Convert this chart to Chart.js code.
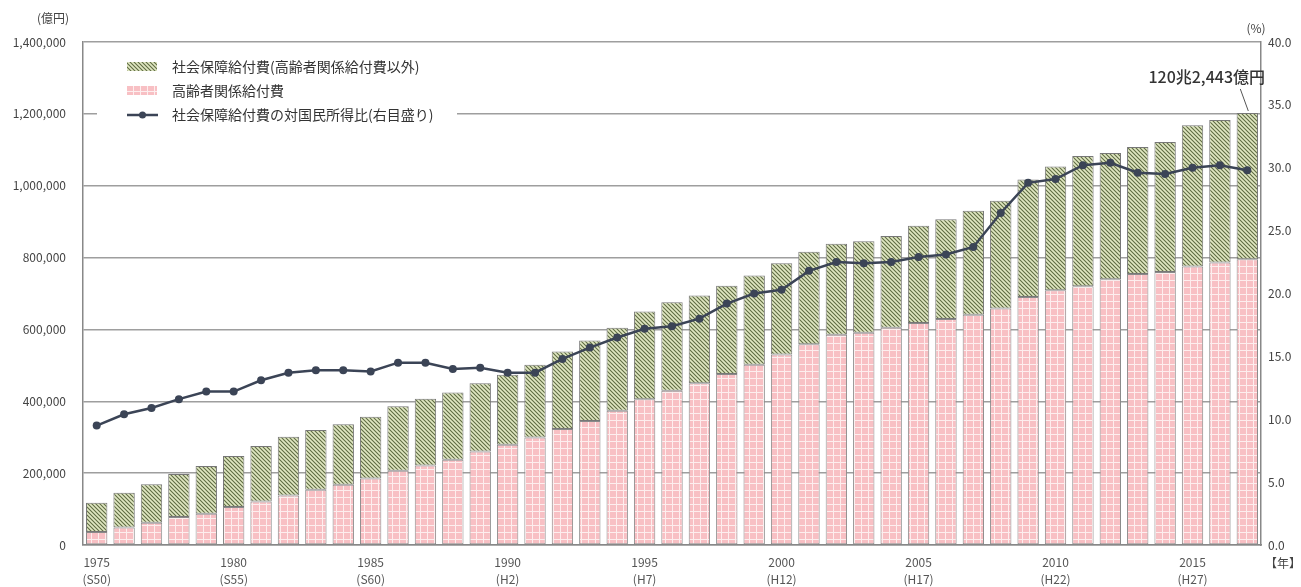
<!DOCTYPE html>
<html>
<head>
<meta charset="utf-8">
<script src="https://cdn.jsdelivr.net/npm/chart.js@4.4.1/dist/chart.umd.min.js"></script>
<style>
  body { margin: 0; background: #fff; }
  #wrap { width: 1301px; height: 587px; }
</style>
</head>
<body>
<div id="wrap"><canvas id="c" width="1301" height="587"></canvas></div>
<script>
// ── Data (億円 / %) ─────────────────────────────────────────
const years = [1975, 1976, 1977, 1978, 1979, 1980, 1981, 1982, 1983, 1984,
               1985, 1986, 1987, 1988, 1989, 1990, 1991, 1992, 1993, 1994,
               1995, 1996, 1997, 1998, 1999, 2000, 2001, 2002, 2003, 2004,
               2005, 2006, 2007, 2008, 2009, 2010, 2011, 2012, 2013, 2014,
               2015, 2016, 2017];

// 高齢者関係給付費
const elderly = [36000, 49000, 62000, 78000, 87000, 106000, 121000, 138000, 154000, 168000,
                 185000, 207000, 221000, 237000, 260000, 279000, 299000, 323000, 345000, 374000,
                 406000, 429000, 450000, 476000, 502000, 530000, 559000, 585000, 591000, 605000,
                 618000, 629000, 641000, 658000, 690000, 709000, 720000, 740000, 754000, 760000,
                 775000, 786000, 795000];

// 社会保障給付費（高齢者関係給付費以外）
const others = [81693, 96165, 106868, 119763, 132832, 141736, 154638, 162973, 165733, 168396,
                171798, 178918, 186337, 187117, 190148, 195153, 202346, 215280, 223974, 230727,
                243842, 246475, 244187, 245411, 248417, 253985, 257267, 253402, 254305, 254999,
                270529, 277727, 289641, 300441, 326980, 344646, 362741, 350781, 353796, 361734,
                393403, 397089, 407443];

// 社会保障給付費の対国民所得比 (%)
const ratio = [9.5, 10.4, 10.9, 11.6, 12.2, 12.2, 13.1, 13.7, 13.9, 13.9,
               13.8, 14.5, 14.5, 14.0, 14.1, 13.7, 13.7, 14.8, 15.7, 16.5,
               17.2, 17.4, 18.0, 19.2, 20.0, 20.3, 21.8, 22.5, 22.4, 22.5,
               22.9, 23.1, 23.7, 26.4, 28.8, 29.1, 30.2, 30.4, 29.6, 29.5,
               30.0, 30.2, 29.8];

// x tick labels (year + era)
const tickYears = [1975, 1980, 1985, 1990, 1995, 2000, 2005, 2010, 2015];
const tickEras  = ['(S50)', '(S55)', '(S60)', '(H2)', '(H7)', '(H12)', '(H17)', '(H22)', '(H27)'];

const seriesNames = ['社会保障給付費(高齢者関係給付費以外)', '高齢者関係給付費', '社会保障給付費の対国民所得比(右目盛り)'];
const lastTotalLabel = '120兆2,443億円';
const lastTotal = 1202443;

// ── Patterns ───────────────────────────────────────────────
function stripePattern() {
  const c = document.createElement('canvas');
  c.width = 4; c.height = 4;
  const g = c.getContext('2d');
  g.fillStyle = '#e0e7c2';
  g.fillRect(0, 0, 4, 4);
  g.strokeStyle = '#5f6c43';
  g.lineWidth = 1.1;
  g.beginPath();
  g.moveTo(-1, -1); g.lineTo(5, 5);
  g.moveTo(-1, 3); g.lineTo(1, 5);
  g.moveTo(3, -1); g.lineTo(5, 1);
  g.stroke();
  return g.createPattern(c, 'repeat');
}

function gridPattern() {
  const c = document.createElement('canvas');
  c.width = 7; c.height = 7;
  const g = c.getContext('2d');
  g.fillStyle = '#f8c0c4';
  g.fillRect(0, 0, 7, 7);
  g.fillStyle = '#fdeeee';
  g.fillRect(0, 0, 7, 1);
  g.fillRect(0, 0, 1, 7);
  return g.createPattern(c, 'repeat');
}

const greenFill = stripePattern();
const pinkFill  = gridPattern();
const lineColor = '#3b4456';
const FONT = "'Noto Sans CJK JP', 'Noto Sans', sans-serif";

Chart.defaults.font.family = FONT;
Chart.defaults.font.size = 12;
Chart.defaults.color = '#444';

// ── Extra drawing: legend box, axis units, annotation ───────
const decorations = {
  id: 'decorations',
  beforeDatasetsDraw(chart) {
    const ctx = chart.ctx;
    ctx.save();
    ctx.fillStyle = '#fff';
    ctx.fillRect(97, 50, 360, 80);

    // legend swatches
    ctx.fillStyle = greenFill;
    ctx.fillRect(127, 62, 30, 9);
    ctx.fillStyle = pinkFill;
    ctx.fillRect(127, 86, 30, 9);
    ctx.strokeStyle = lineColor;
    ctx.lineWidth = 2.5;
    ctx.beginPath();
    ctx.moveTo(127, 115); ctx.lineTo(158, 115);
    ctx.stroke();
    ctx.fillStyle = lineColor;
    ctx.beginPath();
    ctx.arc(142.5, 115, 3.5, 0, Math.PI * 2);
    ctx.fill();

    ctx.fillStyle = '#333';
    ctx.font = '14px ' + FONT;
    ctx.textBaseline = 'middle';
    ctx.textAlign = 'left';
    ctx.fillText(seriesNames[0], 172, 67);
    ctx.fillText(seriesNames[1], 172, 91);
    ctx.fillText(seriesNames[2], 172, 115);
    ctx.restore();
  },
  afterDraw(chart) {
    const ctx = chart.ctx;
    const xs = chart.scales.x, ys = chart.scales.y;
    ctx.save();
    ctx.fillStyle = '#444';
    ctx.font = '12px ' + FONT;
    ctx.textBaseline = 'middle';
    ctx.textAlign = 'center';
    ctx.fillText('(億円)', 53, 18);
    ctx.fillText('(%)', 1256, 28);
    ctx.fillText('【年】', 1283, 563);

    // total annotation for the last year
    const bx = xs.getPixelForValue(years.length - 1);
    const by = ys.getPixelForValue(lastTotal);
    ctx.strokeStyle = '#555';
    ctx.lineWidth = 1;
    ctx.beginPath();
    ctx.moveTo(bx + 1, by - 2);
    ctx.lineTo(bx - 7, by - 24);
    ctx.stroke();
    ctx.fillStyle = '#333';
    ctx.font = '500 16px ' + FONT;
    ctx.textAlign = 'right';
    ctx.fillText(lastTotalLabel, 1265, 77);
    ctx.restore();
  }
};

new Chart(document.getElementById('c').getContext('2d'), {
  type: 'bar',
  data: {
    labels: years,
    datasets: [
      {
        type: 'line',
        label: seriesNames[2],
        data: ratio,
        yAxisID: 'y1',
        borderColor: lineColor,
        borderWidth: 2.5,
        pointRadius: 4,
        pointBackgroundColor: lineColor,
        pointBorderWidth: 0,
        tension: 0,
        order: 0,
      },
      {
        label: seriesNames[1],
        data: elderly,
        backgroundColor: pinkFill,
        borderColor: '#8a8a8a',
        borderWidth: 1,
        borderSkipped: false,
        stack: 's',
        order: 1,
      },
      {
        label: seriesNames[0],
        data: others,
        backgroundColor: greenFill,
        borderColor: '#777',
        borderWidth: 1,
        borderSkipped: false,
        stack: 's',
        order: 1,
      },
    ],
  },
  options: {
    responsive: false,
    animation: false,
    layout: { padding: { top: 42, left: 0, right: 0, bottom: 0 } },
    datasets: { bar: { barPercentage: 0.78, categoryPercentage: 1.0 } },
    plugins: {
      legend: { display: false },
      tooltip: { enabled: false },
    },
    scales: {
      x: {
        stacked: true,
        grid: { display: false, drawTicks: false },
        border: { display: true, color: '#888', width: 1.5 },
        ticks: {
          autoSkip: false,
          maxRotation: 0,
          padding: 9,
          color: '#555',
          font: { size: 12, lineHeight: 1.4 },
          callback: function(val, idx) {
            const k = tickYears.indexOf(years[idx]);
            return k >= 0 ? [String(tickYears[k]), tickEras[k]] : '';
          },
        },
        afterFit: (s) => { s.height = 42; },
      },
      y: {
        stacked: true,
        min: 0,
        max: 1400000,
        grid: { color: '#9e9e9e', lineWidth: 1.5, drawTicks: false },
        border: { display: true, color: '#888', width: 1.5 },
        ticks: {
          stepSize: 200000,
          padding: 17,
          callback: (v) => v.toLocaleString('en-US'),
        },
        afterFit: (s) => { s.width = 83; },
      },
      y1: {
        position: 'right',
        min: 0,
        max: 40,
        grid: { display: false, drawTicks: false },
        border: { display: true, color: '#888', width: 1.5 },
        ticks: {
          stepSize: 5,
          padding: 7,
          callback: (v) => v.toFixed(1),
        },
        afterFit: (s) => { s.width = 40; },
      },
    },
  },
  plugins: [decorations],
});
</script>
</body>
</html>
